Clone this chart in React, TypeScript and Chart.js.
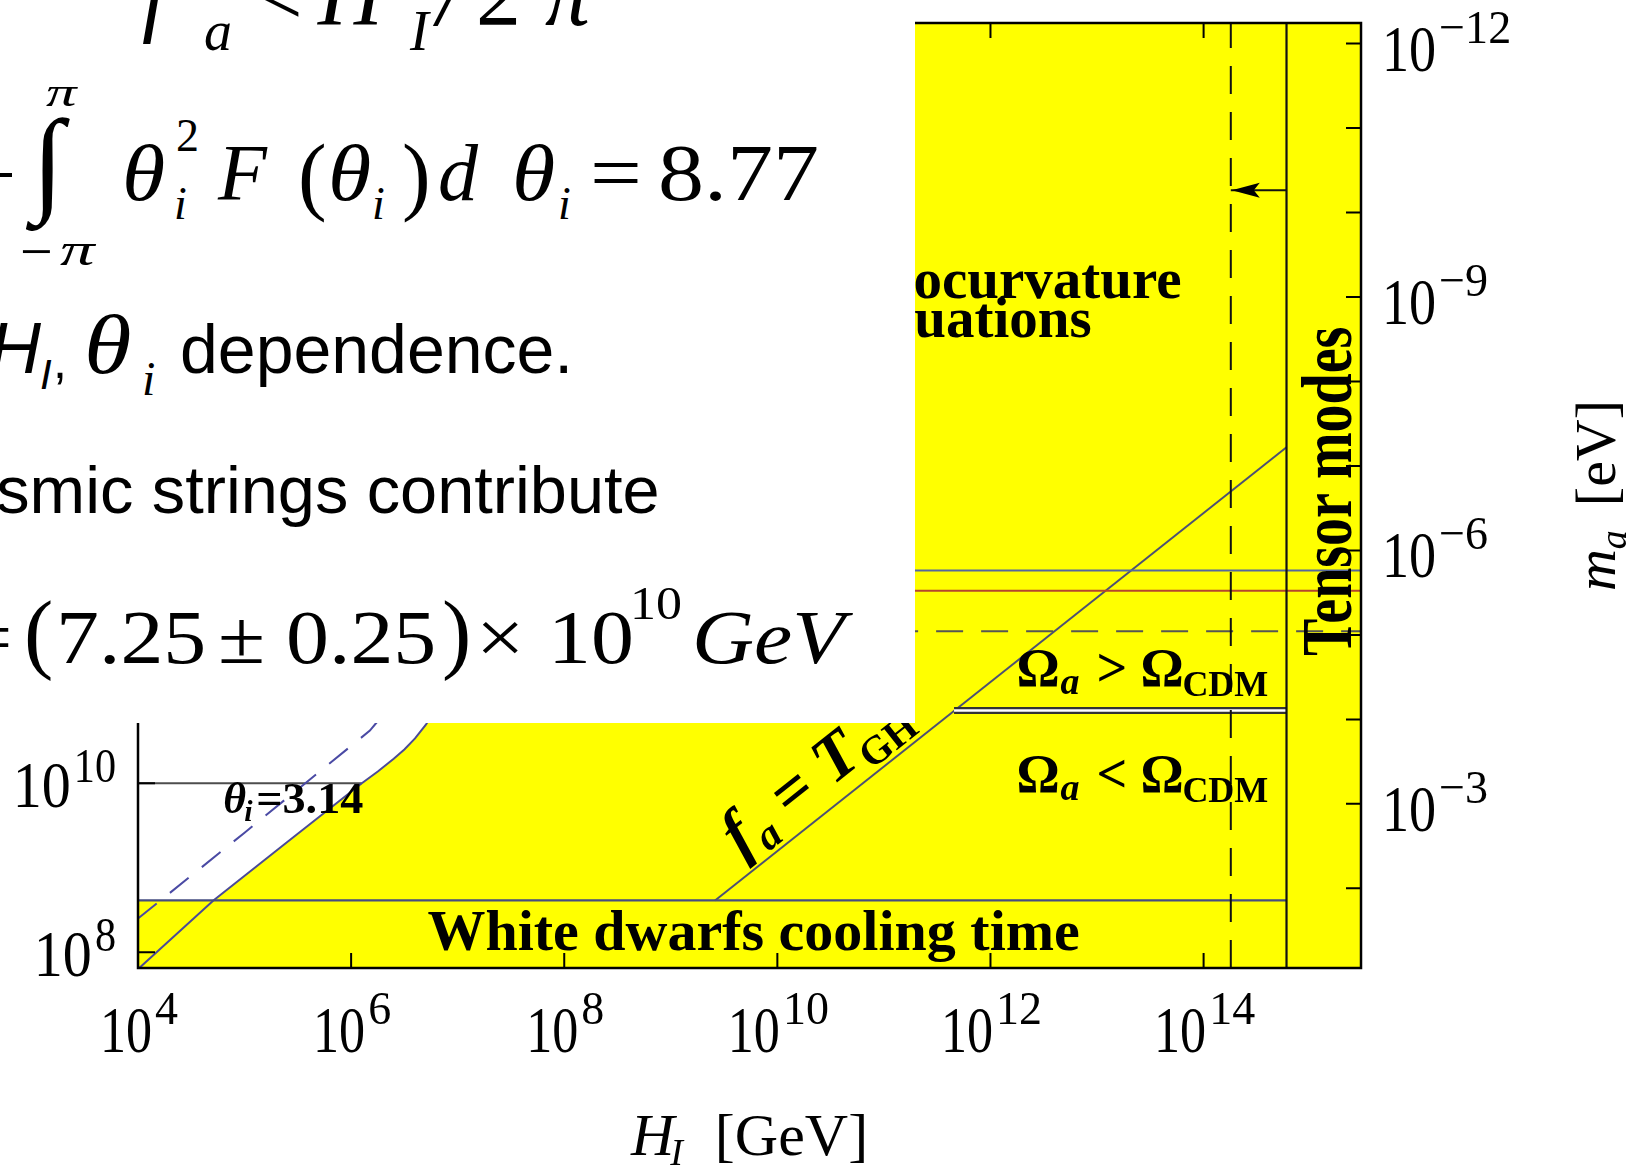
import React, { useEffect, useRef } from "react";
import { Chart, registerables } from "chart.js";

Chart.register(...registerables);

const PAGE_W = 1629;
const PAGE_H = 1167;
const SERIF = '"Liberation Serif", "Times New Roman", serif';
const SANS = '"Liberation Sans", Arial, sans-serif';
const YELLOW = "#ffff00";

// ---- axis ranges ----
const H_MIN = 1e4;
const H_MAX = 3.0e15;
const FA_MIN = 6.5e7;
const FA_MAX = 1e19;
const MA_TIMES_FA = 5.7e6; // m_a [eV] = 5.7e6 / f_a [GeV]

// ---- ticks ----
const H_TICKS = [1e4, 1e6, 1e8, 1e10, 1e12, 1e14];
const H_TICK_EXP = ["4", "6", "8", "10", "12", "14"];
const FA_TICKS = [1e8, 1e10, 1e12, 1e14, 1e16, 1e18];
const FA_TICK_EXP = ["8", "10", "12", "14", "16", "18"];
const MA_TICKS = [1e-12, 1e-11, 1e-10, 1e-9, 1e-8, 1e-7, 1e-6, 1e-5, 1e-4, 1e-3, 1e-2];
const MA_LABELED = [1e-12, 1e-9, 1e-6, 1e-3];
const MA_LABEL_EXP = ["\u221212", "\u22129", "\u22126", "\u22123"];

// ---- series ----
const ISO_H = [1.0e4, 5.1e4, 2.5e5, 1.26e6, 1.78e6, 2.51e6, 3.16e6, 3.98e6, 5.01e6, 6.31e6, 7.94e6, 1.3e7, 2.2e7, 4.0e7, 8.0e7];
const ISO_FA = [6.3e7, 4.1e8, 2.0e9, 1.0e10, 1.38e10, 1.95e10, 2.51e10, 3.39e10, 4.9e10, 7.6e10, 1.26e11, 5.0e11, 3.0e12, 5.0e13, 1.0e19];
const ISO_DASH_H = [1.0e4, 1.0e5, 1.5e6, 3.0e6, 6.0e6];
const ISO_DASH_FA = [2.5e8, 2.6e9, 4.2e10, 1.2e11, 5.0e11];
const WD_FA = 4.1e8;
const WD_H = [1.0e4, 6.0e14];
const THETA_FA = 1.0e10;
const THETA_H = [1.0e4, 1.26e6];
const TGH_H = [2.6e9, 6.0e14];
const TGH_FA = [4.1e8, 9.5e13];
const STR_H = [1.0e6, H_MAX];
const STR_BLUE_FA = 3.3e12;
const STR_RED_FA = 1.9e12;
const STR_DASH_FA = 6.3e11;
const OMEGA_FA = 7.25e10;
const OMEGA_H = [4.55e11, 6.0e14];
const TENSOR_H = 6.0e14;
const TENSOR_DASH_H = 1.8e14;
const ARROW_FA = 1.05e17;

// ---- label anchors (data coords: [H_I, f_a]) ----
const LBL_THETA = [6.3e4, 4.4e9];
const LBL_WD = [5.2e6, 1.06e8];
const LBL_ISO1 = [6.2e13, 5.5e15];
const LBL_ISO2 = [8.9e12, 1.9e15];
const LBL_OM1 = [1.75e12, 1.41e11];
const LBL_OM2 = [1.75e12, 7.8e9];
const LBL_TENSOR = [2.4e15, 2.86e13];
const LBL_TGH = [4.6e9, 1.3e9];

const pts = (xs: number[], ys: number[]) => xs.map((x, i) => ({ x, y: ys[i] }));
const hline = (xs: number[], y: number) => xs.map((x) => ({ x, y }));

const line = (data: any[], color: string, width: number, order: number, extra: any = {}) => ({
  data,
  borderColor: color,
  borderWidth: width,
  pointRadius: 0,
  pointHoverRadius: 0,
  fill: false,
  tension: 0,
  borderCapStyle: "butt",
  order,
  ...extra,
});

function drawPow(ctx: any, x: number, y: number, exp: string, align: string, expDy: number, size: number, esize: number, sx: number, esx: number) {
  const gap = 3;
  ctx.save();
  ctx.font = `${size}px ${SERIF}`;
  const wb = ctx.measureText("10").width * sx;
  ctx.font = `${esize}px ${SERIF}`;
  const we = ctx.measureText(exp).width * esx;
  const total = wb + gap + we;
  const x0 = align === "left" ? x : align === "right" ? x - total : x - total / 2;
  ctx.fillStyle = "#000";
  ctx.textAlign = "left";
  ctx.textBaseline = "alphabetic";
  ctx.translate(x0, y);
  ctx.save();
  ctx.scale(sx, 1);
  ctx.font = `${size}px ${SERIF}`;
  ctx.fillText("10", 0, 0);
  ctx.restore();
  ctx.translate(wb + gap, expDy);
  ctx.scale(esx, 1);
  ctx.font = `${esize}px ${SERIF}`;
  ctx.fillText(exp, 0, 0);
  ctx.restore();
}

const overlayPlugin = {
  id: "overlay",
  beforeDatasetsDraw(chart: any) {
    const { ctx, chartArea: a } = chart;
    ctx.save();
    ctx.fillStyle = YELLOW;
    ctx.fillRect(a.left, a.top, a.right - a.left, a.bottom - a.top);
    ctx.restore();
  },
  afterDatasetsDraw(chart: any) {
    const { ctx, chartArea: a, scales } = chart;
    const xs = scales.x, ys = scales.y, ms = scales.y2;
    const X = (v: number) => xs.getPixelForValue(v);
    const Y = (v: number) => ys.getPixelForValue(v);

    ctx.save();
    ctx.fillStyle = "#000";
    ctx.textBaseline = "alphabetic";

    // arrow head
    const xd = X(TENSOR_DASH_H), ya = Y(ARROW_FA);
    ctx.beginPath();
    ctx.moveTo(xd + 1, ya);
    ctx.lineTo(xd + 29, ya - 7.5);
    ctx.lineTo(xd + 23, ya);
    ctx.lineTo(xd + 29, ya + 7.5);
    ctx.closePath();
    ctx.fill();

    // frame
    ctx.strokeStyle = "#000";
    ctx.lineWidth = 2.5;
    ctx.strokeRect(a.left, a.top, a.right - a.left, a.bottom - a.top);

    // ticks
    ctx.lineWidth = 2;
    ctx.beginPath();
    H_TICKS.forEach((v) => {
      const px = X(v);
      ctx.moveTo(px, a.bottom); ctx.lineTo(px, a.bottom - 15);
      ctx.moveTo(px, a.top); ctx.lineTo(px, a.top + 15);
    });
    FA_TICKS.forEach((v) => {
      const py = Y(v);
      ctx.moveTo(a.left, py); ctx.lineTo(a.left + 17, py);
    });
    MA_TICKS.forEach((v) => {
      const py = ms.getPixelForValue(v);
      ctx.moveTo(a.right, py); ctx.lineTo(a.right - 15, py);
    });
    ctx.stroke();

    // tick labels
    H_TICKS.forEach((v, i) => drawPow(ctx, X(v) + 1, a.bottom + 84, H_TICK_EXP[i], "center", -28, 66, 46, 0.79, 1.0));
    FA_TICKS.forEach((v, i) => drawPow(ctx, a.left - 22, Y(v) + 24, FA_TICK_EXP[i], "right", -25, 66, 48, 0.88, 0.88));
    MA_LABELED.forEach((v, i) => drawPow(ctx, a.right + 21, ms.getPixelForValue(v) + 27, MA_LABEL_EXP[i], "left", -28, 66, 47, 0.82, 0.98));

    // axis titles
    {
      const cx = (a.left + a.right) / 2;
      const by = a.bottom + 187;
      ctx.font = `italic 60px ${SERIF}`;
      const wH = ctx.measureText("H").width;
      ctx.font = `italic 38px ${SERIF}`;
      const wI = ctx.measureText("I").width;
      ctx.font = `60px ${SERIF}`;
      const wG = ctx.measureText("[GeV]").width;
      const gap = 28;
      const x0 = cx - (wH + wI + gap + wG) / 2;
      ctx.textAlign = "left";
      ctx.font = `italic 60px ${SERIF}`;
      ctx.fillText("H", x0, by);
      ctx.font = `italic 38px ${SERIF}`;
      ctx.fillText("I", x0 + wH - 4, by + 10);
      ctx.font = `60px ${SERIF}`;
      ctx.fillText("[GeV]", x0 + wH + wI + gap, by);
    }
    {
      const bx = a.right + 254;
      const cy = (a.top + a.bottom) / 2;
      ctx.save();
      ctx.translate(bx, cy);
      ctx.rotate(-Math.PI / 2);
      ctx.font = `italic 58px ${SERIF}`;
      const wm = ctx.measureText("m").width;
      ctx.font = `italic 38px ${SERIF}`;
      const wa = ctx.measureText("a").width;
      ctx.font = `58px ${SERIF}`;
      const we = ctx.measureText("[eV]").width;
      const gap = 24;
      const x0 = -(wm + wa + gap + we) / 2;
      ctx.textAlign = "left";
      ctx.font = `italic 58px ${SERIF}`;
      ctx.fillText("m", x0, 0);
      ctx.font = `italic 38px ${SERIF}`;
      ctx.fillText("a", x0 + wm, 11);
      ctx.font = `58px ${SERIF}`;
      ctx.fillText("[eV]", x0 + wm + wa + gap, 0);
      ctx.restore();
    }

    // ---- annotations ----
    ctx.textAlign = "left";
    // theta_i = 3.14
    {
      const x0 = X(LBL_THETA[0]), y0 = Y(LBL_THETA[1]);
      ctx.font = `italic bold 44px ${SERIF}`;
      ctx.fillText("\u03b8", x0, y0);
      ctx.font = `italic bold 30px ${SERIF}`;
      ctx.fillText("i", x0 + 21, y0 + 8);
      ctx.save();
      ctx.translate(x0 + 33, y0);
      ctx.scale(1.05, 1);
      ctx.font = `bold 44px ${SERIF}`;
      ctx.fillText("=3.14", 0, 0);
      ctx.restore();
    }
    // white dwarfs
    ctx.font = `bold 58px ${SERIF}`;
    ctx.fillText("White dwarfs cooling time", X(LBL_WD[0]), Y(LBL_WD[1]));
    // isocurvature
    ctx.font = `bold 57px ${SERIF}`;
    ctx.textAlign = "right";
    ctx.fillText("Isocurvature", X(LBL_ISO1[0]), Y(LBL_ISO1[1]));
    ctx.fillText("fluctuations", X(LBL_ISO2[0]), Y(LBL_ISO2[1]));
    ctx.textAlign = "left";
    // Omega labels
    const omega = (anchor: number[], rel: string) => {
      const x0 = X(anchor[0]), y0 = Y(anchor[1]);
      ctx.font = `bold 54px ${SERIF}`;
      ctx.fillText("\u03a9", x0, y0);
      ctx.font = `italic bold 38px ${SERIF}`;
      ctx.fillText("a", x0 + 44, y0 + 8);
      ctx.font = `bold 54px ${SERIF}`;
      ctx.fillText(rel, x0 + 80, y0);
      ctx.fillText("\u03a9", x0 + 124, y0);
      ctx.font = `bold 36px ${SERIF}`;
      ctx.fillText("CDM", x0 + 166, y0 + 10);
    };
    omega(LBL_OM1, ">");
    omega(LBL_OM2, "<");
    // Tensor modes
    {
      ctx.save();
      ctx.translate(X(LBL_TENSOR[0]), Y(LBL_TENSOR[1]));
      ctx.rotate(-Math.PI / 2);
      ctx.scale(1, 1.3);
      ctx.textAlign = "center";
      ctx.font = `bold 56px ${SERIF}`;
      ctx.fillText("Tensor modes", 0, 0);
      ctx.restore();
    }
    // f_a = T_GH along the diagonal
    {
      const ang = Math.atan2(Y(TGH_FA[1]) - Y(TGH_FA[0]), X(TGH_H[1]) - X(TGH_H[0]));
      ctx.save();
      ctx.translate(X(LBL_TGH[0]), Y(LBL_TGH[1]));
      ctx.rotate(ang);
      ctx.textAlign = "left";
      let cx = 0;
      ctx.font = `italic bold 66px ${SERIF}`;
      ctx.fillText("f", cx, 0);
      cx += ctx.measureText("f").width + 3;
      ctx.font = `italic bold 42px ${SERIF}`;
      ctx.fillText("a", cx, 12);
      cx += ctx.measureText("a").width;
      ctx.font = `bold 66px ${SERIF}`;
      ctx.fillText(" = ", cx, 0);
      cx += ctx.measureText(" = ").width;
      ctx.font = `italic bold 66px ${SERIF}`;
      ctx.fillText("T", cx, 0);
      cx += ctx.measureText("T").width;
      ctx.font = `bold 40px ${SERIF}`;
      ctx.fillText("GH", cx, 12);
      ctx.restore();
    }
    ctx.restore();
  },
};

function T(props: any) {
  const { x, b, s, f = "serif", i = false, sx = 1, children } = props;
  const k = f === "serif" ? 0.8375 : 0.8465;
  return (
    <div
      style={{
        position: "absolute",
        left: x,
        top: b - k * s,
        fontSize: s,
        lineHeight: `${s}px`,
        height: s,
        fontFamily: f === "serif" ? SERIF : SANS,
        fontStyle: i ? "italic" : "normal",
        fontWeight: "normal",
        whiteSpace: "pre",
        color: "#000",
        transform: sx !== 1 ? `scaleX(${sx})` : undefined,
        transformOrigin: "0 0",
      }}
    >
      {children}
    </div>
  );
}

export default function App() {
  const ref = useRef<HTMLCanvasElement>(null);

  useEffect(() => {
    const canvas = ref.current;
    if (!canvas) return;
    const whiteRegion = [{ x: H_MIN, y: WD_FA }, ...pts(ISO_H.slice(1), ISO_FA.slice(1))];
    const datasets: any[] = [
      line(whiteRegion, "rgba(0,0,0,0)", 0, 100, { fill: "end", backgroundColor: "#ffffff" }),
      line(pts(ISO_H, ISO_FA), "#4a4a98", 2, 30),
      line(pts(ISO_DASH_H, ISO_DASH_FA), "#4a4aa4", 2, 31, { borderDash: [24, 17] }),
      line(hline(THETA_H, THETA_FA), "#4d4d4d", 2, 32),
      line(hline(WD_H, WD_FA), "#454c80", 2.2, 29),
      line(pts(TGH_H, TGH_FA), "#4c5074", 2, 28),
      line(hline(STR_H, STR_BLUE_FA), "#55689e", 2, 27),
      line(hline(STR_H, STR_RED_FA), "#b4462e", 2, 26),
      line(hline(STR_H, STR_DASH_FA), "#555555", 2, 25, { borderDash: [27, 18] }),
      line(hline(OMEGA_H, OMEGA_FA), "#333333", 7, 12),
      line(hline(OMEGA_H, OMEGA_FA), "#ffffff", 2.5, 11),
      line(pts([TENSOR_DASH_H, TENSOR_DASH_H], [FA_MIN, FA_MAX]), "#111111", 2, 6, { borderDash: [28, 18] }),
      line(pts([TENSOR_H, TENSOR_H], [FA_MIN, FA_MAX]), "#111111", 2.2, 5),
      line(hline([TENSOR_H, TENSOR_DASH_H], ARROW_FA), "#111111", 2, 4),
    ];

    const hidden = { display: false };
    const chart = new Chart(canvas, {
      type: "line",
      data: { datasets },
      options: {
        responsive: false,
        animation: false,
        devicePixelRatio: 1,
        events: [],
        layout: { padding: { top: 23, left: 0, right: 0, bottom: 0 } },
        plugins: { legend: hidden, tooltip: { enabled: false }, title: hidden },
        scales: {
          x: {
            type: "logarithmic",
            position: "bottom",
            min: H_MIN,
            max: H_MAX,
            bounds: "data",
            ticks: hidden,
            grid: { display: false, drawTicks: false },
            border: hidden,
            afterFit: (s: any) => { s.height = PAGE_H - 968; },
          },
          y: {
            type: "logarithmic",
            position: "left",
            min: FA_MIN,
            max: FA_MAX,
            bounds: "data",
            ticks: hidden,
            grid: { display: false, drawTicks: false },
            border: hidden,
            afterFit: (s: any) => { s.width = 138; },
          },
          y2: {
            type: "logarithmic",
            position: "right",
            reverse: true,
            min: MA_TIMES_FA / FA_MAX,
            max: MA_TIMES_FA / FA_MIN,
            bounds: "data",
            ticks: hidden,
            grid: { display: false, drawTicks: false },
            border: hidden,
            afterFit: (s: any) => { s.width = PAGE_W - 1361; },
          },
        },
      } as any,
      plugins: [overlayPlugin],
    } as any);
    return () => chart.destroy();
  }, []);

  return (
    <div style={{ position: "absolute", left: 0, top: 0, width: PAGE_W, height: PAGE_H, background: "#fff", overflow: "hidden" }}>
      <canvas ref={ref} width={PAGE_W} height={PAGE_H} style={{ position: "absolute", left: 0, top: 0, width: PAGE_W, height: PAGE_H, display: "block" }} />
      <div style={{ position: "absolute", left: 0, top: 0, width: 915, height: 723, background: "#fff", overflow: "hidden" }}>
        {/* line 1: f_a < H_I / 2pi */}
        <T x={142} b={25} s={90} i>f</T>
        <T x={204} b={50} s={56} i>a</T>
        <T x={252} b={25} s={90}>{"<"}</T>
        <T x={318} b={25} s={90} i>H</T>
        <T x={410} b={50} s={56} i>I</T>
        <T x={437} b={25} s={90} i>/</T>
        <T x={476} b={25} s={90}>2</T>
        <T x={545} b={25} s={90} i>{"\u03c0"}</T>
        {/* line 2: integral */}
        <div style={{ position: "absolute", left: -40, top: 173, width: 52, height: 4, background: "#000" }} />
        <T x={32} b={200} s={116}>{"\u222b"}</T>
        <T x={46} b={106} s={42} i sx={1.45}>{"\u03c0"}</T>
        <T x={20} b={272} s={58}>{"\u2212"}</T>
        <T x={60} b={266} s={46} i sx={1.5}>{"\u03c0"}</T>
        <T x={122} b={200} s={80} i sx={1.1}>{"\u03b8"}</T>
        <T x={176} b={152} s={46}>2</T>
        <T x={174} b={220} s={46} i>i</T>
        <T x={218} b={200} s={80} i>F</T>
        <T x={298} b={204} s={86}>(</T>
        <T x={328} b={200} s={80} i sx={1.1}>{"\u03b8"}</T>
        <T x={372} b={220} s={46} i>i</T>
        <T x={402} b={204} s={86}>)</T>
        <T x={438} b={200} s={80} i>d</T>
        <T x={512} b={200} s={80} i sx={1.1}>{"\u03b8"}</T>
        <T x={558} b={220} s={46} i>i</T>
        <T x={590} b={200} s={80} sx={1.15}>=</T>
        <T x={658} b={200} s={80} sx={1.15}>8.77</T>
        {/* line 3 */}
        <T x={-11} b={373} s={72} f="sans" i>H</T>
        <T x={40} b={390} s={42} f="sans" i>I</T>
        <T x={53} b={378} s={50} f="sans">,</T>
        <T x={84} b={373} s={84} i sx={1.15}>{"\u03b8"}</T>
        <T x={142} b={395} s={48} i>i</T>
        <T x={180} b={373} s={68} f="sans">dependence.</T>
        {/* line 4 */}
        <T x={-89} b={513} s={66.7} f="sans">Cosmic strings contribute</T>
        {/* line 5 */}
        <T x={-36} b={663} s={76} sx={1.13}>=</T>
        <T x={24} b={663} s={88}>(</T>
        <T x={56} b={663} s={76} sx={1.13}>7.25</T>
        <T x={218} b={663} s={76} sx={1.13}>{"\u00b1"}</T>
        <T x={286} b={663} s={76} sx={1.13}>0.25</T>
        <T x={442} b={663} s={88}>)</T>
        <T x={476} b={663} s={76} sx={1.13}>{"\u00d7"}</T>
        <T x={548} b={663} s={76} sx={1.13}>10</T>
        <T x={630} b={620} s={46} sx={1.13}>10</T>
        <T x={692} b={663} s={76} i sx={1.13}>GeV</T>
      </div>
    </div>
  );
}
